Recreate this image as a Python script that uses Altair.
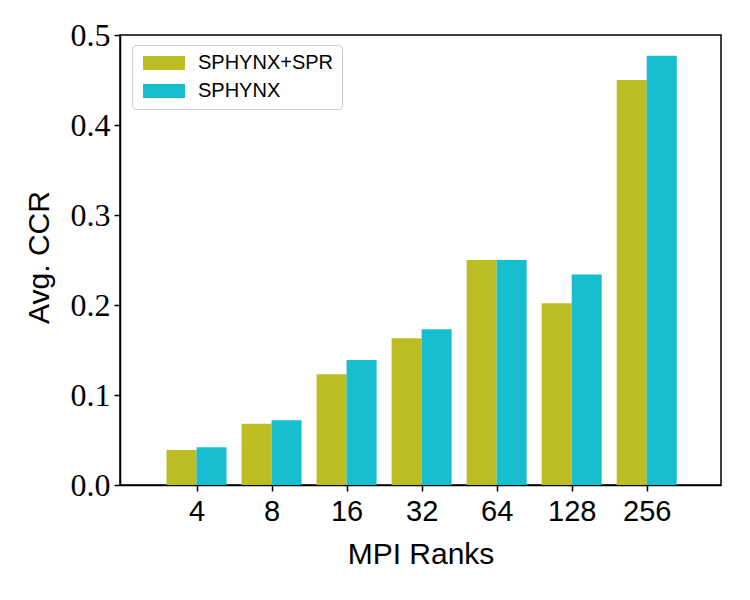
import json
import altair as alt
import pandas as pd

# Average CCR per number of MPI ranks, two partitioner variants
ranks = ["4", "8", "16", "32", "64", "128", "256"]
spr_ccr = [0.039, 0.068, 0.123, 0.163, 0.250, 0.202, 0.450]
sphynx_ccr = [0.042, 0.072, 0.139, 0.173, 0.250, 0.234, 0.477]
series_names = ["SPHYNX+SPR", "SPHYNX"]
series_colors = ["#bcbd22", "#17becf"]
y_ticks = [0.0, 0.1, 0.2, 0.3, 0.4, 0.5]

rows = []
for i, r in enumerate(ranks):
    rows.append({"idx": i, "rank": r, "series": series_names[0], "side": -1, "ccr": spr_ccr[i]})
    rows.append({"idx": i, "rank": r, "series": series_names[1], "side": 0, "ccr": sphynx_ccr[i]})
df = pd.DataFrame(rows)

bar_w = 0.4
label_expr = f"{json.dumps(ranks)}[datum.value]"

sans = "Liberation Sans"
serif = "Liberation Serif"

bars = (
    alt.Chart(df)
    .transform_calculate(
        x0=f"datum.idx + datum.side * {bar_w}",
        x1=f"datum.idx + (datum.side + 1) * {bar_w}",
    )
    .mark_bar()
    .encode(
        x=alt.X(
            "x0:Q",
            scale=alt.Scale(domain=[-1.02, 6.99], nice=False, zero=False),
            axis=alt.Axis(
                values=list(range(len(ranks))),
                labelExpr=label_expr,
                title="MPI Ranks",
                labelFont=sans,
                labelFontSize=29,
                labelColor="black",
                labelPadding=6,
                tickSize=6,
                tickColor="black",
                tickWidth=1.5,
                domainColor="black",
                domainWidth=1.5,
                grid=False,
                titleFont=sans,
                titleFontSize=30,
                titleFontWeight="normal",
                titleColor="black",
                titleBaseline="alphabetic",
                titleY=78,
            ),
        ),
        x2="x1:Q",
        y=alt.Y(
            "ccr:Q",
            scale=alt.Scale(domain=[0, 0.5], nice=False),
            axis=alt.Axis(
                values=y_ticks,
                format=".1f",
                title="Avg. CCR",
                labelFont=serif,
                labelFontSize=32,
                labelColor="black",
                labelPadding=4,
                tickSize=6,
                tickColor="black",
                tickWidth=1.5,
                domainColor="black",
                domainWidth=1.5,
                grid=False,
                titleFont=sans,
                titleFontSize=30,
                titleFontWeight="normal",
                titleColor="black",
                titleAngle=-90,
                titleAlign="center",
                titleBaseline="alphabetic",
                titleX=-72,
                titleY=222,
            ),
        ),
        y2=alt.datum(0),
        color=alt.Color(
            "series:N",
            scale=alt.Scale(domain=series_names, range=series_colors),
            legend=alt.Legend(
                title=None,
                orient="none",
                legendX=12,
                legendY=10,
                fillColor="white",
                strokeColor="#cccccc",
                cornerRadius=4,
                padding=8,
                # wide swatch: 6 units across, 2 units tall
                symbolType="M-1,-1H5V1H-1Z",
                symbolSize=196,
                symbolStrokeWidth=0,
                symbolOpacity=1,
                labelFont=sans,
                labelFontSize=20,
                labelColor="black",
                labelOffset=38,
                rowPadding=8,
            ),
        ),
    )
)

chart = (
    bars.properties(
        width=601,
        height=450,
        autosize=alt.AutoSizeParams(type="none"),
        padding={"left": 120, "top": 35, "right": 29, "bottom": 115},
        background="white",
    )
    .configure_view(stroke="black", strokeWidth=1.5)
)

chart.save("out.html", embed_options={"renderer": "svg", "actions": False})
